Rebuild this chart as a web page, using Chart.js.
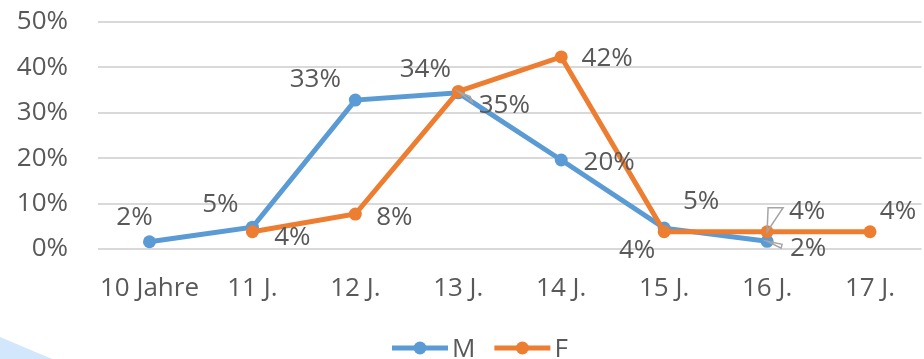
<!DOCTYPE html>
<html>
<head>
<meta charset="utf-8">
<script src="https://cdn.jsdelivr.net/npm/chart.js@4.4.1/dist/chart.umd.min.js"></script>
<style>
  html, body { margin: 0; padding: 0; background: #fff; overflow: hidden; }
  canvas { display: block; }
</style>
</head>
<body>
<canvas id="ageChart" width="928" height="359"></canvas>
<script>
// values (percent)
const categories = ['10 Jahre', '11 J.', '12 J.', '13 J.', '14 J.', '15 J.', '16 J.', '17 J.'];
const valuesM = [1.6, 4.8, 32.8, 34.4, 19.6, 4.6, 1.7, null];
const valuesF = [null, 3.8, 7.7, 34.7, 42.3, 3.8, 3.8, 3.8];
const yTicks = [0, 10, 20, 30, 40, 50];

const FONT = "'Open Sans', sans-serif";
const TEXT = '#595959';
const BLUE = '#5b9bd5';
const ORANGE = '#ed7d31';

// label text offsets from each point: [dx, dy, leader triangle]
const labelPlacement = [
  [[-15, -26], [-32, -24], [-40, -22], [-33, -25], [48, 1], [37, -28], [41, 5, [[15, 3], [14, 7]]], null],
  [null, [40, 4], [39, 2], [46, 12, [[12, 5], [14, 11]]], [46, 0], [-27, 17], [40, -22, [[1, -24], [16, -24]]], [28, -22]]
];

const pointLabels = {
  id: 'pointLabels',
  afterDatasetsDraw(chart) {
    const ctx = chart.ctx;
    ctx.save();
    ctx.font = '26px ' + FONT;
    ctx.textAlign = 'center';
    ctx.textBaseline = 'alphabetic';
    chart.data.datasets.forEach((ds, di) => {
      const meta = chart.getDatasetMeta(di);
      meta.data.forEach((pt, i) => {
        const v = ds.data[i];
        const p = labelPlacement[di][i];
        if (v == null || !p) return;
        if (p[2]) {
          ctx.strokeStyle = '#a6a6a6';
          ctx.lineWidth = 1.5;
          ctx.beginPath();
          ctx.moveTo(pt.x, pt.y);
          ctx.lineTo(pt.x + p[2][0][0], pt.y + p[2][0][1]);
          ctx.lineTo(pt.x + p[2][1][0], pt.y + p[2][1][1]);
          ctx.closePath();
          ctx.stroke();
        }
        ctx.fillStyle = TEXT;
        ctx.fillText(Math.round(v) + '%', pt.x + p[0], pt.y + p[1] + 26 * 0.357);
      });
    });
    ctx.restore();
  }
};

// light blue corner shape + legend
const decor = {
  id: 'decor',
  beforeDraw(chart) {
    const ctx = chart.ctx;
    ctx.save();
    ctx.fillStyle = '#d2e7fb';
    ctx.beginPath();
    ctx.moveTo(0, 337);
    ctx.lineTo(52, 359);
    ctx.lineTo(0, 359);
    ctx.closePath();
    ctx.fill();
    ctx.restore();
  },
  afterDraw(chart) {
    const ctx = chart.ctx;
    ctx.save();
    ctx.font = '26px ' + FONT;
    ctx.textBaseline = 'alphabetic';
    const y = 348;
    let x = 392;
    chart.data.datasets.forEach(ds => {
      ctx.strokeStyle = ds.borderColor;
      ctx.lineWidth = 5;
      ctx.beginPath();
      ctx.moveTo(x, y);
      ctx.lineTo(x + 56, y);
      ctx.stroke();
      ctx.fillStyle = ds.borderColor;
      ctx.beginPath();
      ctx.arc(x + 28, y, 6.5, 0, Math.PI * 2);
      ctx.fill();
      ctx.fillStyle = TEXT;
      ctx.fillText(ds.label, x + 60, y + 26 * 0.357);
      x += 60 + ctx.measureText(ds.label).width + 19;
    });
    ctx.restore();
  }
};

new Chart(document.getElementById('ageChart'), {
  type: 'line',
  data: {
    labels: categories,
    datasets: [
      {
        label: 'M',
        data: valuesM,
        borderColor: BLUE,
        backgroundColor: BLUE,
        borderWidth: 5,
        pointRadius: 6.5,
        pointBorderWidth: 0,
        tension: 0,
        order: 2
      },
      {
        label: 'F',
        data: valuesF,
        borderColor: ORANGE,
        backgroundColor: ORANGE,
        borderWidth: 5,
        pointRadius: 6.5,
        pointBorderWidth: 0,
        tension: 0,
        order: 1
      }
    ]
  },
  options: {
    responsive: false,
    animation: false,
    layout: { padding: { top: 22, left: 0, right: 0, bottom: 0 } },
    plugins: {
      legend: { display: false },
      tooltip: { enabled: false }
    },
    scales: {
      x: {
        offset: true,
        grid: { display: false },
        border: { display: false },
        ticks: { color: TEXT, font: { family: FONT, size: 26 }, padding: 16, maxRotation: 0, autoSkip: false },
        afterFit: s => { s.height = 110; }
      },
      y: {
        min: 0,
        max: 50,
        afterBuildTicks: axis => { axis.ticks = yTicks.map(v => ({ value: v })); },
        grid: { color: '#d9d9d9', lineWidth: 2, drawTicks: false },
        border: { display: false },
        ticks: { color: TEXT, font: { family: FONT, size: 26 }, padding: 30, callback: v => v + '%' },
        afterFit: s => { s.width = 98; s.paddingTop = 0; s.paddingBottom = 0; }
      }
    }
  },
  plugins: [pointLabels, decor]
});
</script>
</body>
</html>
